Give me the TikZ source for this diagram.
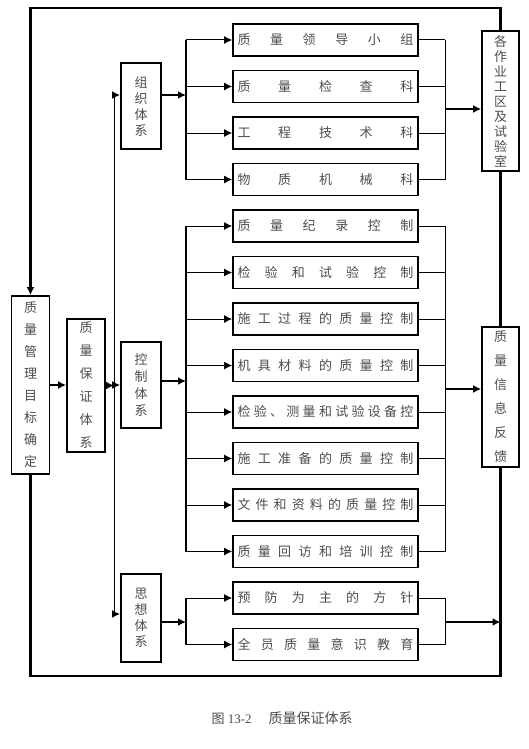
\documentclass[tikz,border=0pt]{standalone}
\usepackage{fontspec}
\setmainfont{Liberation Serif}
\newfontfamily\cjk{Noto Sans CJK SC}
\usetikzlibrary{arrows.meta}

\begin{document}
\begin{tikzpicture}[x=1bp,y=-1bp,
  box/.style={draw,line width=1.8bp,inner sep=0pt,text=black!70},
  vbox/.style={box,minimum width=38bp,align=center,font=\cjk\fontsize{13bp}{#1}\selectfont},
  hbox/.style={box,minimum width=185bp,minimum height=32bp,font=\cjk\fontsize{13bp}{15bp}\selectfont},
  bold/.style={line width=2.2bp},
  fine/.style={line width=1bp},
  tip/.style={-{Latex[length=8bp,width=8bp]}}]
\useasboundingbox (0,0) rectangle (529,749);
% left column
\node[vbox=22bp,minimum height=178bp] (goal) at (30.5,385) {质\\量\\管\\理\\目\\标\\确\\定};
\node[vbox=23bp,minimum height=133bp] (assure) at (86,385.5) {质\\量\\保\\证\\体\\系};
\node[vbox=16bp,minimum width=40bp,minimum height=86bp] (org) at (141,106) {组\\织\\体\\系};
\node[vbox=17bp,minimum width=40bp,minimum height=86bp] (ctrl) at (141,385) {控\\制\\体\\系};
\node[vbox=16bp,minimum width=40bp,minimum height=88bp] (think) at (141,618) {思\\想\\体\\系};
% right column
\node[vbox=15bp,minimum width=37bp,minimum height=140bp] (work) at (500.5,101) {各\\作\\业\\工\\区\\及\\试\\验\\室};
\node[vbox=24bp,minimum width=37bp,minimum height=140bp] (feed) at (500.5,397) {质\\量\\信\\息\\反\\馈};
% middle rows
\foreach \t [count=\i] in {质 量 领 导 小 组,质 量 检 查 科,工 程 技 术 科,物 质 机 械 科,质 量 纪 录 控 制,检 验 和 试 验 控 制,施 工 过 程 的 质 量 控 制,机 具 材 料 的 质 量 控 制,检 验 、 测 量 和 试 验 设 备 控,施 工 准 备 的 质 量 控 制,文 件 和 资 料 的 质 量 控 制,质 量 回 访 和 培 训 控 制,预 防 为 主 的 方 针,全 员 质 量 意 识 教 育}
  \node[hbox] (r\i) at (325.5,{40+46.5*(\i-1)}) {\makebox[176bp][s]{\t}};

% outer loop
\coordinate (tl) at (30.5,8);
\coordinate (br) at (500.5,676);
\draw[bold,tip] (work.north) |- (tl) -- (goal.north);
\draw[bold] (goal.south) |- (br) -- (feed.south);
\draw[bold] (work.south) -- (feed.north);
\draw[bold,tip] (goal.east) -- (goal.east -| assure.west);

% spine
\coordinate (s1) at (114,95);
\coordinate (s3) at (114,614);
\draw[fine] (s1) -- (s3);
\draw[bold,tip] (assure.east) -- (assure.east -| s1);
\draw[bold,tip] (s1) -- (s1 -| org.west);
\draw[bold,tip] (ctrl.west -| s1) -- (ctrl.west);
\draw[bold,tip] (s3) -- (s3 -| think.west);

% groups
\coordinate (a1) at (186,95);
\coordinate (a2) at (186,381);
\coordinate (a3) at (186,622);
\coordinate (b1) at (445,109);
\coordinate (b2) at (445,389);
\coordinate (b3) at (445,622);
\draw[bold,tip] (org.east |- a1) -- (a1);
\draw[bold,tip] (ctrl.east |- a2) -- (a2);
\draw[bold,tip] (think.east |- a3) -- (a3);
\draw[bold] (r1.west -| a1) -- (r4.west -| a1);
\draw[bold] (r5.west -| a1) -- (r12.west -| a1);
\draw[bold] (r13.west -| a1) -- (r14.west -| a1);
\draw[fine] (r1.east -| b1) -- (r4.east -| b1);
\draw[fine] (r5.east -| b1) -- (r12.east -| b1);
\draw[fine] (r13.east -| b1) -- (r14.east -| b1);
\foreach \i in {1,...,14} {
  \draw[fine,tip] (r\i.west -| a1) -- (r\i.west);
  \draw[fine] (r\i.east) -- (r\i.east -| b1);
}
\draw[bold,tip] (b1) -- (b1 -| work.west);
\draw[bold,tip] (b2) -- (b2 -| feed.west);
\draw[bold,tip] (b3) -- (b3 -| br);

% caption
\node[anchor=west,text=black!70,font=\fontsize{13bp}{15bp}\selectfont] (cap) at (208,718) {{\cjk 图} 13-2\hspace{17bp}{\cjk\fontsize{14bp}{16bp}\selectfont 质量保证体系}};
\end{tikzpicture}
\end{document}
